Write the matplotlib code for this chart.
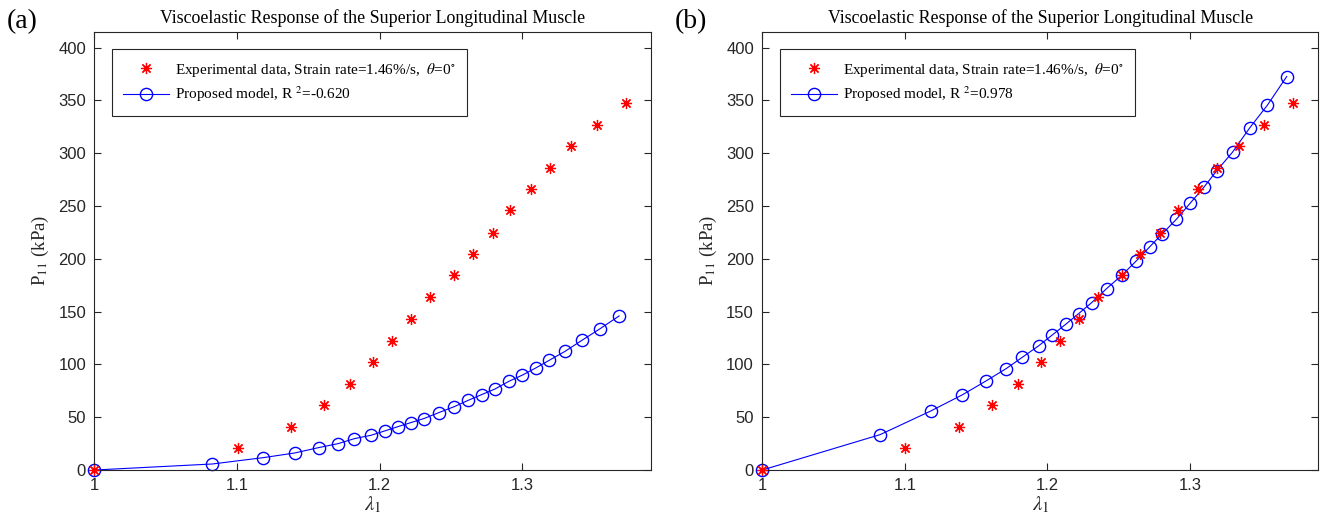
import matplotlib
matplotlib.use("Agg")
import matplotlib.pyplot as plt

# experimental data (strain rate 1.46%/s, theta = 0)
lam_exp = [1.0, 1.1004, 1.138, 1.161, 1.1794, 1.1954, 1.2088, 1.2222, 1.2353,
           1.2522, 1.2652, 1.2792, 1.2916, 1.3058, 1.3191, 1.3343, 1.3522, 1.3725]
p_exp = [0, 20.6, 40.5, 61.4, 81.6, 102.2, 122.5, 143.0, 163.9,
         184.7, 204.9, 224.8, 245.9, 265.7, 285.6, 306.4, 326.9, 347.3]

# model evaluation points
lam_model = [1.0, 1.0826, 1.1183, 1.1403, 1.1571, 1.1709, 1.1822, 1.1939, 1.2035,
             1.2128, 1.2218, 1.2309, 1.2415, 1.2524, 1.2622, 1.2716, 1.2806, 1.2904,
             1.3000, 1.3096, 1.3187, 1.3298, 1.3417, 1.3541, 1.3678]
p_model_a = [0, 5.7, 11.7, 16.1, 21.2, 25.0, 29.7, 32.9, 37.0, 41.1, 44.9, 48.7,
             54.4, 60.1, 66.1, 71.5, 76.6, 83.9, 89.9, 96.8, 103.8, 112.3, 122.8,
             133.5, 145.9]
p_model_b = [0, 33.5, 56.0, 71.2, 84.5, 95.9, 106.6, 117.7, 128.0, 138.0, 148.0,
             158.4, 171.8, 184.7, 197.9, 211.2, 223.8, 237.4, 252.5, 267.6, 283.4,
             301.0, 323.7, 345.2, 372.6]

panels = ["(a)", "(b)"]
r2_labels = ["-0.620", "0.978"]
title = "Viscoelastic Response of the Superior Longitudinal Muscle"

serif = "Liberation Serif"
sans = "Liberation Sans"
plt.rcParams["mathtext.fontset"] = "stix"

fig = plt.figure(figsize=(13.29, 5.23), dpi=100)
ax_rects = [[0.0710, 0.1013, 0.4187, 0.8380], [0.5736, 0.1013, 0.4184, 0.8380]]
axis_col = (0.15, 0.15, 0.15)
star = (8, 2, 0)

for i, p_model in enumerate([p_model_a, p_model_b]):
    ax = fig.add_axes(ax_rects[i])
    ax.plot(lam_model, p_model, color="blue", linewidth=0.8, marker="o",
            markerfacecolor="none", markeredgecolor="blue", markersize=8.8,
            markeredgewidth=1.0, zorder=2, clip_on=False,
            label="Proposed model, R $^{2}$=" + r2_labels[i])
    ax.plot(lam_exp, p_exp, linestyle="none", marker=star, color="red",
            markersize=8, markeredgewidth=0.9, zorder=3, clip_on=False,
            label=r"Experimental data, Strain rate=1.46%/s,  $\theta$=0$^{\circ}$")
    ax.set_xlim(1.0, 1.39)
    ax.set_ylim(0, 415)
    ax.set_xticks([1, 1.1, 1.2, 1.3])
    ax.set_xticklabels(["1", "1.1", "1.2", "1.3"])
    ax.set_yticks(range(0, 401, 50))
    ax.tick_params(direction="in", top=True, right=True, length=5, width=0.8,
                   colors=axis_col, labelsize=12, pad=6)
    for lbl in ax.get_xticklabels() + ax.get_yticklabels():
        lbl.set_family(sans)
        lbl.set_color(axis_col)
    for s in ax.spines.values():
        s.set_color(axis_col)
        s.set_linewidth(0.8)
    ax.set_title(title, fontfamily=serif, fontsize=12.9, pad=6)
    ax.set_xlabel(r"$\lambda_1$", fontsize=15, color=axis_col, labelpad=1)
    ax.set_ylabel(r"P$_{11}$ (kPa)", fontfamily=serif, fontsize=13.5,
                  color=axis_col, labelpad=5)
    handles, labels = ax.get_legend_handles_labels()
    leg = ax.legend(handles[::-1], labels[::-1], loc="upper left",
                    bbox_to_anchor=(0.031, 0.9605), frameon=True,
                    fancybox=False, edgecolor=axis_col, framealpha=1,
                    prop={"family": serif, "size": 11}, handlelength=3.0,
                    borderpad=0.75, labelspacing=0.4, handletextpad=0.4,
                    borderaxespad=0)
    leg.get_frame().set_linewidth(0.8)
    fig.text(ax_rects[i][0] - 0.066, 0.946, panels[i], fontfamily=serif,
             fontsize=20)

fig.savefig("out.png", dpi=100)
